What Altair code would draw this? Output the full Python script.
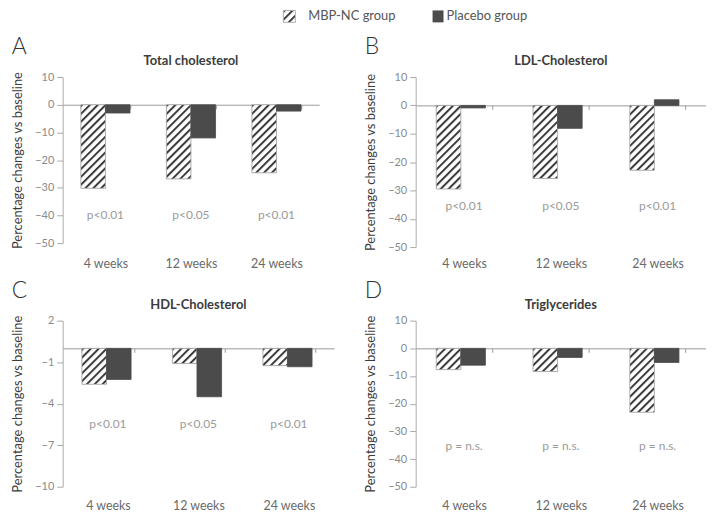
import base64
import altair as alt
import pandas as pd

# ---------------- data ----------------
weeks = ["4 weeks", "12 weeks", "24 weeks"]
groups = ["MBP-NC group", "Placebo group"]

tc_mbp = [-30.2, -26.8, -24.6]
tc_pla = [-3.0, -12.0, -2.3]
ldl_mbp = [-29.5, -25.8, -22.9]
ldl_pla = [-0.9, -8.1, 2.0]
hdl_mbp = [-2.6, -1.1, -1.25]
hdl_pla = [-2.25, -3.5, -1.33]
tg_mbp = [-7.7, -8.4, -23.1]
tg_pla = [-6.1, -3.3, -5.1]

tc_p = ["p<0.01", "p<0.05", "p<0.01"]
ldl_p = ["p<0.01", "p<0.05", "p<0.01"]
hdl_p = ["p<0.01", "p<0.05", "p<0.01"]
tg_p = ["p = n.s.", "p = n.s.", "p = n.s."]

pct_ticks = [10, 0, -10, -20, -30, -40, -50]
hdl_ticks = [2, -1, -4, -7, -10]

# ---------------- styles ----------------
FONT = "Lato"
DARK = "#4b4b4b"
hatch_svg = (
    "<svg xmlns='http://www.w3.org/2000/svg'>"
    "<defs><pattern id='h' width='5.6' height='5.6' patternUnits='userSpaceOnUse' "
    "patternTransform='rotate(45)'>"
    "<rect x='0' y='0' width='2' height='5.6' fill='#3a3a3a'/></pattern></defs>"
    "<rect width='100%' height='100%' fill='white'/>"
    "<rect width='100%' height='100%' fill='url(#h)'/></svg>"
)
HATCH_URL = "data:image/svg+xml;base64," + base64.b64encode(hatch_svg.encode()).decode()


def panel(letter, title, mbp, pla, pvals, p_y, ymin, ymax, yticks, W, H, label_gap):
    df = pd.DataFrame({
        "week": weeks * 2,
        "group": [groups[0]] * 3 + [groups[1]] * 3,
        "value": mbp + pla,
    })
    pdf = pd.DataFrame({"week": weeks, "p": pvals, "value": [p_y] * 3})
    tdf = pd.DataFrame({"t": [title]})

    z = H * ymax / (ymax - ymin)
    tick = 4
    xaxis = alt.Axis(
        title=None, domainColor="#9a9a9a", tickColor="#9a9a9a", tickSize=tick,
        tickBand="extent", offset=-(H - z), labelPadding=H - z + label_gap - tick,
        labelAngle=0, labelColor="#6a6a6a", labelFontSize=12.5, grid=False,
    )
    x = alt.X("week:N", sort=weeks, axis=xaxis,
              scale=alt.Scale(domain=weeks, paddingInner=0.425, paddingOuter=0.2125))
    yaxis = alt.Axis(
        values=yticks, title="Percentage changes vs baseline", titleFontSize=13,
        titleFontWeight="normal", titleColor="#3c3c3c", titlePadding=10,
        labelFontSize=11, labelColor="#8a8a8a", labelPadding=3, tickSize=6,
        tickColor="#aaaaaa", domainColor="#aaaaaa", grid=False,
    )
    y = alt.Y("value:Q", axis=yaxis,
              scale=alt.Scale(domain=[ymin, ymax], nice=False, zero=False))
    xo = alt.XOffset("group:N", sort=groups,
                     scale=alt.Scale(domain=groups, paddingInner=0, paddingOuter=0))

    base = alt.Chart(df).encode(x=x, xOffset=xo, y=y, y2=alt.datum(0))
    hatch = base.transform_filter(alt.datum.group == groups[0]).mark_image(
        aspect=False).encode(url=alt.value(HATCH_URL))
    bars = base.mark_bar(strokeWidth=0.8).encode(
        fill=alt.Fill("group:N", scale=alt.Scale(domain=groups, range=["transparent", DARK]), legend=None),
        stroke=alt.Stroke("group:N", scale=alt.Scale(domain=groups, range=["#9a9a9a", DARK]), legend=None),
    )
    ptext = alt.Chart(pdf).mark_text(fontSize=12, color="#9a9a9a").encode(
        x=x, y=y, text="p:N")
    ttext = alt.Chart(tdf).mark_text(fontSize=13, fontWeight="bold", color="#3c3c3c").encode(
        x=alt.value(W / 2), y=alt.value(-16), text="t:N")

    return alt.layer(hatch, bars, ptext, ttext).properties(
        width=W, height=H,
        title=alt.Title(letter, anchor="start", frame="bounds", fontSize=23,
                        fontWeight=300, color="#333333", baseline="alphabetic", offset=-22),
    )


pA = panel("A", "Total cholesterol", tc_mbp, tc_pla, tc_p, -40, -50, 10, pct_ticks, 258, 167, 15)
pB = panel("B", "LDL-Cholesterol", ldl_mbp, ldl_pla, ldl_p, -35.4, -50, 10, pct_ticks, 292, 171, 11)
pC = panel("C", "HDL-Cholesterol", hdl_mbp, hdl_pla, hdl_p, -5.5, -10, 2, hdl_ticks, 273, 167, 13)
pD = panel("D", "Triglycerides", tg_mbp, tg_pla, tg_p, -35.3, -50, 10, pct_ticks, 292, 167, 13)

# ---------------- legend ----------------
leg = pd.DataFrame({"label": groups})
leg_hatch = alt.Chart(leg).transform_filter(alt.datum.label == groups[0]).mark_image(
    width=12, height=12, aspect=False, align="left", baseline="top").encode(
    x=alt.value(222), y=alt.value(0), url=alt.value(HATCH_URL))
leg_box = alt.Chart(leg).transform_filter(alt.datum.label == groups[0]).mark_rect(
    fill="transparent", stroke="#9a9a9a", strokeWidth=0.8).encode(
    x=alt.value(222), x2=alt.value(234), y=alt.value(0), y2=alt.value(12))
leg_dark = alt.Chart(leg).transform_filter(alt.datum.label == groups[1]).mark_rect(
    fill=DARK).encode(x=alt.value(372), x2=alt.value(383), y=alt.value(0), y2=alt.value(12))
leg_t1 = alt.Chart(leg).transform_filter(alt.datum.label == groups[0]).mark_text(
    align="left", baseline="middle", fontSize=13, color="#555555").encode(
    x=alt.value(247), y=alt.value(6), text="label:N")
leg_t2 = alt.Chart(leg).transform_filter(alt.datum.label == groups[1]).mark_text(
    align="left", baseline="middle", fontSize=13, color="#555555").encode(
    x=alt.value(386), y=alt.value(6), text="label:N")
legend = alt.layer(leg_hatch, leg_box, leg_dark, leg_t1, leg_t2).properties(width=480, height=17)

chart = alt.vconcat(
    legend,
    alt.hconcat(pA, pB, spacing=45),
    alt.hconcat(pC, pD, spacing=30),
    spacing=9,
).properties(padding={"left": 3, "top": 0, "right": 0, "bottom": 0}).configure(
    font=FONT).configure_view(stroke=None)

chart.save("out.html", embed_options={"renderer": "svg", "actions": False})
